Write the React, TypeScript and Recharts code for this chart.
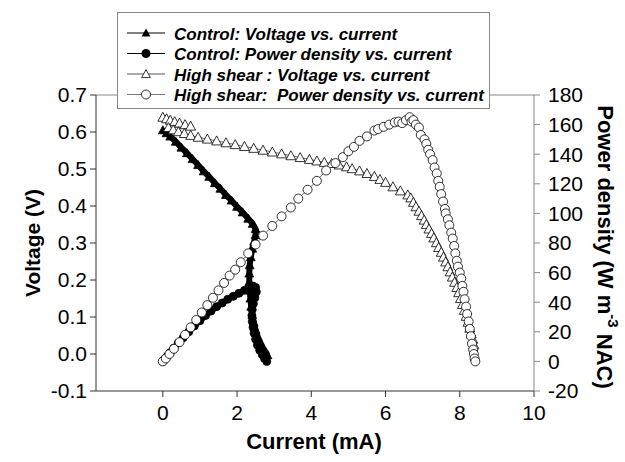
import React from 'react';
import { ComposedChart, Line, XAxis, YAxis, ReferenceLine } from 'recharts';

// Control: voltage vs. current (filled triangles)
const controlVoltCurrent = [0, 0.1, 0.2, 0.35, 0.5, 0.65, 0.8, 0.95, 1.1, 1.25, 1.4, 1.55, 1.7, 1.85, 2.0, 2.15, 2.3, 2.42, 2.5, 2.5, 2.46, 2.41, 2.37, 2.34, 2.33, 2.33, 2.34, 2.36, 2.38, 2.41, 2.45, 2.5, 2.56, 2.63, 2.7, 2.77, 2.82];
const controlVoltage = [0.605, 0.597, 0.588, 0.574, 0.558, 0.543, 0.527, 0.511, 0.494, 0.479, 0.462, 0.447, 0.43, 0.415, 0.398, 0.383, 0.366, 0.352, 0.338, 0.322, 0.304, 0.285, 0.262, 0.24, 0.218, 0.195, 0.172, 0.15, 0.128, 0.106, 0.085, 0.065, 0.046, 0.03, 0.016, 0.005, -0.003];

// Control: power density vs. current (filled circles)
const controlPowerCurrent = [0, 0.05, 0.12, 0.2, 0.3, 0.42, 0.55, 0.7, 0.85, 1.0, 1.15, 1.3, 1.45, 1.6, 1.75, 1.9, 2.05, 2.2, 2.32, 2.42, 2.5, 2.52, 2.48, 2.44, 2.41, 2.4, 2.41, 2.43, 2.46, 2.5, 2.55, 2.61, 2.68, 2.74, 2.8];
const controlPower = [0, 1.5, 3.5, 6, 9, 12.5, 16, 20, 24, 27.5, 31, 34, 37, 39.5, 42, 44, 46, 48, 49.5, 51, 50, 47, 43, 39, 35, 31, 27, 23, 19, 15, 11, 7.5, 4.5, 2, 0];

// High shear: voltage vs. current (open triangles)
const shearVoltCurrent = [0, 0.1, 0.2, 0.32, 0.45, 0.6, 0.75, 0.15, 0.28, 0.42, 0.58, 0.75, 0.95, 1.2, 1.45, 1.7, 1.95, 2.2, 2.45, 2.7, 2.95, 3.2, 3.45, 3.7, 3.95, 4.15, 4.35, 4.55, 4.75, 4.95, 5.1, 5.3, 5.5, 5.7, 5.85, 6.0, 6.2, 6.4, 6.6, 6.68, 6.75, 6.82, 6.9, 6.97, 7.04, 7.1, 7.17, 7.24, 7.3, 7.37, 7.43, 7.5, 7.56, 7.62, 7.68, 7.74, 7.8, 7.86, 7.92, 7.97, 8.02, 8.07, 8.12, 8.17, 8.22, 8.27, 8.31, 8.35, 8.38];
const shearVoltage = [0.64, 0.636, 0.632, 0.628, 0.624, 0.62, 0.616, 0.612, 0.606, 0.601, 0.596, 0.591, 0.586, 0.581, 0.576, 0.571, 0.566, 0.561, 0.556, 0.551, 0.546, 0.541, 0.536, 0.531, 0.526, 0.522, 0.518, 0.515, 0.511, 0.506, 0.501, 0.495, 0.488, 0.48, 0.472, 0.464, 0.452, 0.441, 0.43, 0.422, 0.41, 0.398, 0.386, 0.374, 0.362, 0.35, 0.338, 0.326, 0.314, 0.301, 0.288, 0.275, 0.262, 0.249, 0.236, 0.222, 0.208, 0.194, 0.18, 0.166, 0.15, 0.134, 0.118, 0.102, 0.086, 0.07, 0.055, 0.04, 0.025];

// High shear: power density vs. current (open circles)
const shearPowerCurrent = [0, 0.08, 0.18, 0.3, 0.45, 0.6, 0.75, 0.9, 1.05, 1.2, 1.35, 1.5, 1.65, 1.8, 1.95, 2.1, 2.3, 2.5, 2.7, 2.95, 3.2, 3.45, 3.65, 3.9, 4.15, 4.4, 4.65, 4.85, 5.0, 5.15, 5.3, 5.5, 5.7, 5.8, 5.95, 6.1, 6.25, 6.35, 6.45, 6.55, 6.65, 6.7, 6.75, 6.82, 6.9, 6.95, 7.05, 7.1, 7.15, 7.2, 7.27, 7.32, 7.38, 7.42, 7.46, 7.5, 7.55, 7.6, 7.62, 7.68, 7.72, 7.77, 7.81, 7.85, 7.88, 7.92, 7.95, 8.0, 8.04, 8.07, 8.1, 8.13, 8.17, 8.2, 8.24, 8.27, 8.3, 8.33, 8.36, 8.38, 8.4, 8.42];
const shearPower = [0, 2, 5, 8.5, 13, 18, 23, 28, 33, 38, 43, 48, 53, 58, 62, 67, 73, 79, 85, 91.5, 98, 104, 110, 116, 122, 129, 134, 138, 142, 145, 149, 152, 156, 157, 158.5, 160, 161.5, 162, 161, 163, 165, 162, 163, 160, 158, 153, 150, 147, 143, 140, 136, 131, 127, 122, 118, 113, 108, 103, 100, 96, 92, 87, 83, 78, 73, 68, 64, 60, 56, 51, 47, 42, 37, 32, 27, 22, 17, 12, 8, 5, 2, 0];

const currentTicks = [0, 2, 4, 6, 8, 10];
const voltageTicks = [-0.1, 0, 0.1, 0.2, 0.3, 0.4, 0.5, 0.6, 0.7];
const powerTicks = [-20, 0, 20, 40, 60, 80, 100, 120, 140, 160, 180];

const legendLabels = [
  'Control: Voltage vs. current',
  'Control: Power density vs. current',
  'High shear : Voltage vs. current',
  'High shear:\u00a0 Power density vs. current',
];

const toPoints = (xs: number[], ys: number[]) => xs.map((x, i) => ({ current: x, value: ys[i] }));

const FONT = '"Liberation Sans", Arial, sans-serif';

function trianglePath(cx: number, cy: number, s: number) {
  return `M${cx},${cy - s * 0.55} L${cx + s * 0.55},${cy + s * 0.45} L${cx - s * 0.55},${cy + s * 0.45} Z`;
}

const triangleDot = (fill: string, size: number) => (props: any) => {
  const { cx, cy, index } = props;
  if (cx == null || cy == null) return <g key={`t-${index}`} />;
  return <path key={`t-${index}`} d={trianglePath(cx, cy, size)} fill={fill} stroke="#000" strokeWidth={0.8} />;
};

const circleDot = (fill: string, r: number) => (props: any) => {
  const { cx, cy, index } = props;
  if (cx == null || cy == null) return <g key={`c-${index}`} />;
  return <circle key={`c-${index}`} cx={cx} cy={cy} r={r} fill={fill} stroke="#000" strokeWidth={0.8} />;
};

function LegendBox() {
  const markers = [
    (cx: number, cy: number) => <path d={trianglePath(cx, cy, 8)} fill="#000" />,
    (cx: number, cy: number) => <circle cx={cx} cy={cy} r={4.5} fill="#000" />,
    (cx: number, cy: number) => <path d={trianglePath(cx, cy, 8)} fill="#fff" stroke="#000" strokeWidth={0.8} />,
    (cx: number, cy: number) => <circle cx={cx} cy={cy} r={4.5} fill="#fff" stroke="#000" strokeWidth={0.8} />,
  ];
  const lineColors = ['#000', '#000', '#555', '#777'];
  return (
    <div
      style={{
        position: 'absolute',
        left: 117,
        top: 12,
        width: 373,
        height: 97,
        background: '#fff',
        border: '1px solid #888',
        boxSizing: 'border-box',
      }}
    >
      <svg width={371} height={95} style={{ overflow: 'visible' }}>
        {legendLabels.map((label, i) => {
          const cy = 20 + i * 20.5;
          return (
            <g key={label}>
              <line x1={9} x2={47} y1={cy} y2={cy} stroke={lineColors[i]} strokeWidth={1} />
              {markers[i](28, cy)}
              <text
                x={56}
                y={cy + 6.5}
                fontFamily={FONT}
                fontSize={17}
                fontWeight="bold"
                fontStyle="italic"
                fill="#000"
              >
                {label}
              </text>
            </g>
          );
        })}
      </svg>
    </div>
  );
}

export default function App() {
  const tickStyle = { fontFamily: FONT, fontSize: 21, fill: '#000' };
  return (
    <div style={{ position: 'absolute', left: 0, top: 0, width: 625, height: 462, background: '#fff' }}>
      <ComposedChart width={625} height={462} margin={{ top: 95, right: 0, bottom: 0, left: 0 }}>
        <XAxis
          dataKey="current"
          type="number"
          domain={[-1.8, 10]}
          ticks={currentTicks}
          interval={0}
          allowDataOverflow
          height={71}
          stroke="#333"
          tickSize={6}
          tickMargin={8}
          tick={tickStyle}
        />
        <YAxis
          yAxisId="left"
          type="number"
          domain={[-0.1, 0.7]}
          ticks={voltageTicks}
          interval={0}
          width={96}
          stroke="#333"
          tickSize={6}
          tickMargin={3}
          tick={tickStyle}
          tickFormatter={(v: number) => v.toFixed(1)}
        />
        <YAxis
          yAxisId="right"
          orientation="right"
          type="number"
          domain={[-20, 180]}
          ticks={powerTicks}
          interval={0}
          width={91}
          stroke="#888"
          tickSize={6}
          tickMargin={8}
          tick={tickStyle}
        />
        <ReferenceLine yAxisId="left" y={0.7} stroke="#888" strokeWidth={1} />
        <Line
          yAxisId="left"
          data={toPoints(controlVoltCurrent, controlVoltage)}
          dataKey="value"
          type="linear"
          stroke="#000"
          strokeWidth={6}
          dot={triangleDot('#000', 8)}
          isAnimationActive={false}
        />
        <Line
          yAxisId="right"
          data={toPoints(controlPowerCurrent, controlPower)}
          dataKey="value"
          type="linear"
          stroke="#000"
          strokeWidth={6}
          dot={circleDot('#000', 4)}
          isAnimationActive={false}
        />
        <Line
          yAxisId="left"
          data={toPoints(shearVoltCurrent, shearVoltage)}
          dataKey="value"
          type="linear"
          stroke="#444"
          strokeWidth={0.8}
          dot={triangleDot('#fff', 9)}
          isAnimationActive={false}
        />
        <Line
          yAxisId="right"
          data={toPoints(shearPowerCurrent, shearPower)}
          dataKey="value"
          type="linear"
          stroke="#444"
          strokeWidth={0.8}
          dot={circleDot('#fff', 4.5)}
          isAnimationActive={false}
        />
      </ComposedChart>
      <svg width={625} height={462} style={{ position: 'absolute', left: 0, top: 0, pointerEvents: 'none' }}>
        <text
          x={32}
          y={243}
          transform="rotate(-90 32 243)"
          textAnchor="middle"
          dominantBaseline="central"
          fontFamily={FONT}
          fontSize={21}
          fontWeight="bold"
        >
          Voltage (V)
        </text>
        <text
          x={314}
          y={441}
          textAnchor="middle"
          dominantBaseline="central"
          fontFamily={FONT}
          fontSize={22}
          fontWeight="bold"
        >
          Current (mA)
        </text>
        <text
          x={605}
          y={247}
          transform="rotate(90 605 247)"
          textAnchor="middle"
          dominantBaseline="central"
          fontFamily={FONT}
          fontSize={22}
          fontWeight="bold"
        >
          Power density (W m<tspan dy={-9} fontSize={15}>-3</tspan>
          <tspan dy={9}> NAC)</tspan>
        </text>
      </svg>
      <LegendBox />
    </div>
  );
}
